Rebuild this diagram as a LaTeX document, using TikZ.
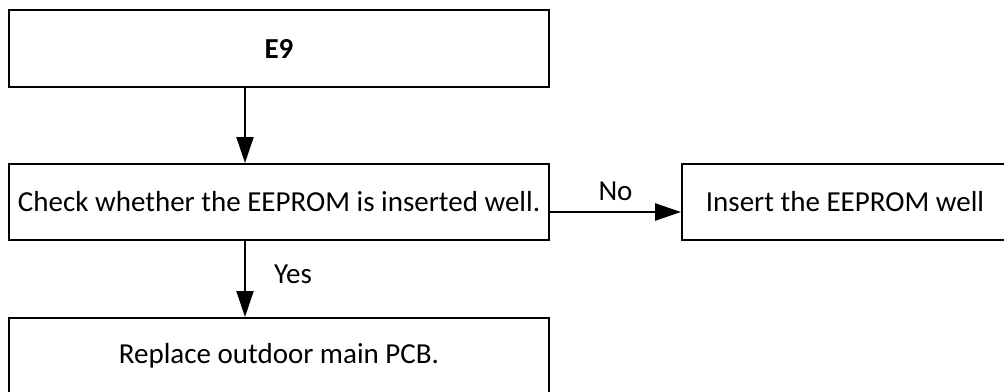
\documentclass[tikz,border=0pt]{standalone}
\usepackage{fontspec}
\setmainfont{Carlito}
\usepackage{tikz}
\usetikzlibrary{arrows.meta,positioning,calc}
\newcommand{\flowfont}{\fontsize{14.5pt}{17pt}\selectfont}
\tikzset{
  fbox/.style={draw=black,line width=1pt,align=center,font=\flowfont,inner sep=3pt,minimum width=270pt,minimum height=38pt},
  arr/.style={-{Triangle[length=13pt,width=8.5pt]},line width=1pt,color=black},
  lbl/.style={font=\flowfont,inner sep=0pt},
}
\begin{document}
\begin{tikzpicture}[x=0.5pt,y=-0.5pt]
        \useasboundingbox (0,0) rectangle (1004,391);
        \clip (0,0) rectangle (1004,391);
        \node[fbox,minimum height=38.5pt] (e9) at (279,48.5) {\textbf{E9}};
        \node[fbox] (chk) at (279,202) {Check whether the EEPROM is inserted well.};
        \node[fbox,minimum width=163pt] (ins) at (845,202) {Insert the EEPROM well};
        \node[fbox] (rep) at (279,356) {Replace outdoor main PCB.};
        \coordinate (ax) at (245,0);
        \coordinate (ny) at (0,212);
        \draw[arr] (e9.south -| ax) -- (chk.north -| ax);
        \draw[arr,line width=1.3pt] (chk.east |- ny) -- node[lbl,above=5pt]{No} (ins.west |- ny);
        \draw[arr] (chk.south -| ax) -- node[lbl,right=14pt,yshift=2.5pt]{Yes} (rep.north -| ax);
      \end{tikzpicture}
\end{document}
